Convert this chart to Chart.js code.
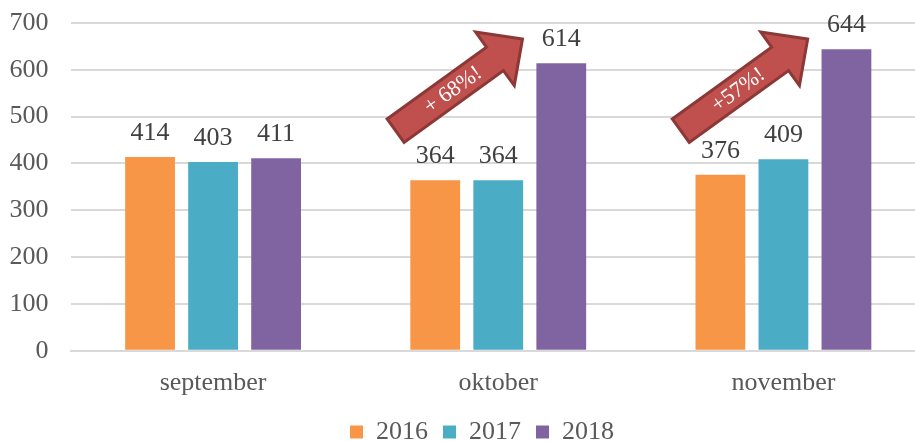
<!DOCTYPE html>
<html>
<head>
<meta charset="utf-8">
<script src="https://cdn.jsdelivr.net/npm/chart.js@4/dist/chart.umd.min.js"></script>
<style>
    html, body { margin: 0; padding: 0; background: #fff; overflow: hidden; }
    #wrap { width: 915px; height: 441px; overflow: hidden; }
</style>
</head>
<body>
<div id="wrap"><canvas id="chart" width="926" height="459"></canvas></div>
<script>
const categories = ['september', 'oktober', 'november'];
const years = ['2016', '2017', '2018'];
const values2016 = [414, 364, 376];
const values2017 = [403, 364, 409];
const values2018 = [411, 614, 644];
const yMax = 700;
const yStep = 100;
// growth callouts: which month, and its text
const calloutMonths = [1, 2];
const calloutTexts = ['+ 68%!', '+57%!'];

const serif = "'Liberation Serif', 'DejaVu Serif', serif";
const textGray = '#595959';

// value labels over every bar
const valueLabels = {
    id: 'valueLabels',
    afterDatasetsDraw(chart) {
        const ctx = chart.ctx;
        ctx.save();
        ctx.font = '26px ' + serif;
        ctx.fillStyle = '#404040';
        ctx.textAlign = 'center';
        ctx.textBaseline = 'alphabetic';
        chart.data.datasets.forEach((ds, i) => {
            chart.getDatasetMeta(i).data.forEach((bar, j) => {
                ctx.fillText(ds.data[j], bar.x, bar.y - 17);
            });
        });
        ctx.restore();
    }
};

// red block arrows pointing at the 2018 bar
const growthArrows = {
    id: 'growthArrows',
    afterDatasetsDraw(chart) {
        const ctx = chart.ctx;
        const x = chart.scales.x, y = chart.scales.y;
        const catW = x.getPixelForValue(1) - x.getPixelForValue(0);
        calloutMonths.forEach((m, k) => {
            const cx = x.getPixelForValue(m);
            const x0 = cx - 0.36 * catW, y0 = y.getPixelForValue(470);
            const x1 = cx + 0.085 * catW, y1 = y.getPixelForValue(666);
            const len = Math.hypot(x1 - x0, y1 - y0);
            const ang = Math.atan2(y1 - y0, x1 - x0);
            const w = 14.5, hw = 33, hl = 34;
            ctx.save();
            ctx.translate(x0, y0);
            ctx.rotate(ang);
            ctx.beginPath();
            ctx.moveTo(0, -w);
            ctx.lineTo(len - hl, -w);
            ctx.lineTo(len - hl, -hw);
            ctx.lineTo(len, 0);
            ctx.lineTo(len - hl, hw);
            ctx.lineTo(len - hl, w);
            ctx.lineTo(0, w);
            ctx.closePath();
            ctx.fillStyle = '#C0504D';
            ctx.fill();
            ctx.lineWidth = 3;
            ctx.lineJoin = 'miter';
            ctx.strokeStyle = '#8C3836';
            ctx.stroke();
            ctx.font = '22px ' + serif;
            ctx.fillStyle = '#fff';
            ctx.textAlign = 'center';
            ctx.textBaseline = 'middle';
            ctx.fillText(calloutTexts[k], len * 0.45, 1);
            ctx.restore();
        });
    }
};

// the legend sits a little right of the middle, as in the original
const legendShift = {
    id: 'legendShift',
    afterLayout(chart) {
        chart.legend.left += 38;
        chart.legend.top -= 4;
    }
};

new Chart(document.getElementById('chart').getContext('2d'), {
    type: 'bar',
    data: {
        labels: categories,
        datasets: [
            { label: years[0], data: values2016, backgroundColor: '#F79646' },
            { label: years[1], data: values2017, backgroundColor: '#4BACC6' },
            { label: years[2], data: values2018, backgroundColor: '#8064A2' }
        ]
    },
    options: {
        responsive: false,
        animation: false,
        categoryPercentage: 0.663,
        barPercentage: 0.79,
        layout: { padding: { left: 0, right: 0, top: 23, bottom: 0 } },
        scales: {
            x: {
                grid: { display: false },
                border: { color: '#D9D9D9', width: 2 },
                ticks: { color: textGray, font: { family: serif, size: 26 }, padding: 9 }
            },
            y: {
                min: 0,
                max: yMax,
                afterFit(scale) {
                    scale.width = 70.5;
                    scale.paddingTop = 0;
                    scale.paddingBottom = 0;
                },
                ticks: { stepSize: yStep, color: textGray, font: { family: serif, size: 26 }, padding: 22 },
                grid: { color: '#D9D9D9', lineWidth: 2, drawTicks: false },
                border: { display: false }
            }
        },
        plugins: {
            legend: {
                position: 'bottom',
                labels: {
                    color: textGray,
                    font: { family: serif, size: 26 },
                    boxWidth: 13,
                    boxHeight: 13,
                    padding: 15
                }
            },
            tooltip: { enabled: false }
        }
    },
    plugins: [valueLabels, growthArrows, legendShift]
});
</script>
</body>
</html>
